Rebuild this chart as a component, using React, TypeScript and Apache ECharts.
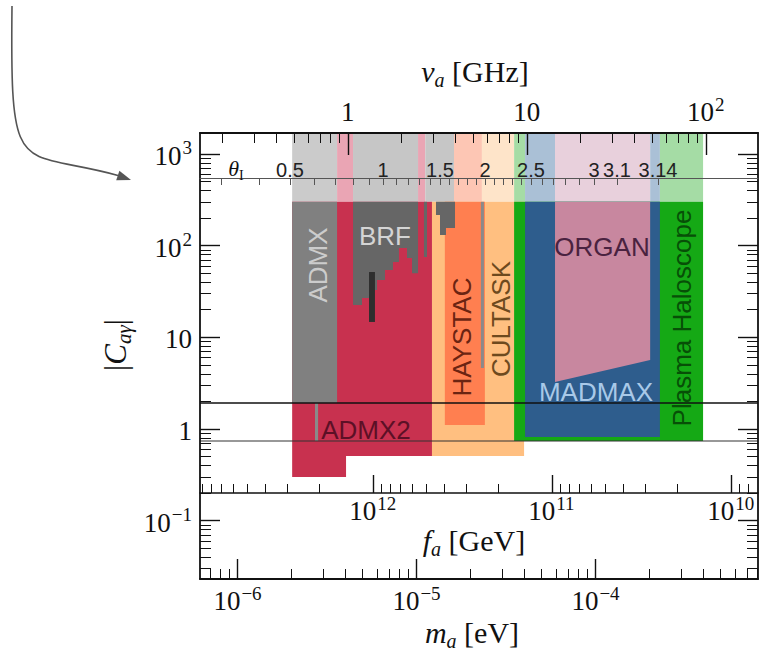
import { useEffect, useRef } from 'react';
import * as echarts from 'echarts';

const SERIF = '"Liberation Serif", "DejaVu Serif", serif';
const SANS = '"Liberation Sans", Arial, sans-serif';
const INK = '#111111';

// ---- axis windows (log10 units) ----
const LOG_M_MIN = -6.2095;
const LOG_M_MAX = -3.0922;
const LOG_C_MIN = -1.6358;
const LOG_C_MAX = 3.2279;

// ---- unit conversions for the secondary axes ----
const EV_PER_GHZ = 4.1357e-6;
const EV_AT_FA_1E12_GEV = 5.7e-6;

// ---- major ticks ----
const massMajorEV = [1e-6, 1e-5, 1e-4];
const freqMajorGHz = [1, 10, 100];
const faMajorGeV = [1e12, 1e11, 1e10];
const couplingMajor = [0.1, 1, 10, 100, 1000];

// ---- theta_I axis (as log10 of mass in eV) ----
const thetaLabels = ['0.5', '1', '1.5', '2', '2.5', '3', '3.1', '3.14'];
const thetaLabelLogMass = [-5.7067, -5.1872, -4.8687, -4.6173, -4.3603, -4.0084, -3.8799, -3.6508];
const thetaTickLogMass = [
  -6.0922, -5.8799, -5.7067, -5.5726, -5.4553, -5.3547, -5.2654, -5.1872, -5.1145, -5.0475,
  -4.986, -4.9246, -4.8687, -4.8184, -4.7682, -4.7179, -4.6676, -4.6173, -4.567, -4.5168,
  -4.4665, -4.4162, -4.3603, -4.2989, -4.2374, -4.1704, -4.0922, -4.0084, -3.8799, -3.6508,
];

// ---- benchmark couplings ----
const ksvzC = 1.92;
const dfszC = 0.74;

// ---- projected band (above |C| = 300) ----
const bandBottomC = 300;
const bandTopC = 2000;
const bandEdgesEV = [2.02e-6, 3.6e-6, 4.42e-6, 1.02e-5, 1.12e-5, 1.62e-5, 2.32e-5, 3.51e-5, 4.04e-5, 5.94e-5, 2.02e-4, 2.29e-4, 3.99e-4];
const bandOwners = ['ADMX', 'ADMX2', 'BRF', 'ADMX2', 'BRF', 'HAYSTAC', 'CULTASK', 'Plasma', 'MADMAX', 'ORGAN', 'MADMAX', 'Plasma'];

// ---- experiment regions: [mass eV, |C|] ----
const cultaskRegion: [number, number][] = [[1.22e-5, 300], [3.99e-5, 300], [3.99e-5, 0.508], [1.22e-5, 0.508]];
const admx2Region: [number, number][] = [[2.02e-6, 300], [1.22e-5, 300], [1.22e-5, 0.508], [4.04e-6, 0.508], [4.04e-6, 0.3], [2.02e-6, 0.3]];
const admxRegion: [number, number][] = [[2.02e-6, 300], [3.6e-6, 300], [3.6e-6, 1.92], [2.02e-6, 1.92]];
const admxSliver: [number, number][] = [[2.71e-6, 1.92], [2.82e-6, 1.92], [2.82e-6, 0.74], [2.71e-6, 0.74]];
const plasmaRegion: [number, number][] = [[3.51e-5, 300], [3.99e-4, 300], [3.99e-4, 0.74], [3.51e-5, 0.74]];
const madmaxRegion: [number, number][] = [[4.04e-5, 300], [2.29e-4, 300], [2.29e-4, 0.818], [4.04e-5, 0.818]];
const organRegion: [number, number][] = [[5.94e-5, 300], [2.02e-4, 300], [2.02e-4, 5.65], [5.94e-5, 3.25]];
const haystacRegion: [number, number][] = [[1.44e-5, 300], [2.41e-5, 300], [2.41e-5, 1.105], [1.44e-5, 1.105]];
const haystacSliver: [number, number][] = [[2.29e-5, 300], [2.38e-5, 300], [2.38e-5, 4.63], [2.29e-5, 4.63]];
const brfMain: [number, number][] = [
  [4.42e-6, 300], [1.02e-5, 300], [1.02e-5, 50], [9.44e-6, 50], [9.44e-6, 73.2], [8.85e-6, 73.2],
  [8.85e-6, 94.2], [7.98e-6, 94.2], [7.98e-6, 66.2], [7.39e-6, 66.2], [7.39e-6, 54.2], [6.67e-6, 54.2],
  [6.67e-6, 42.2], [6.02e-6, 42.2], [6.02e-6, 32.8], [5.5e-6, 32.8], [5.5e-6, 26.8], [4.96e-6, 26.8],
  [4.96e-6, 22.5], [4.42e-6, 22.5],
];
const brfBar: [number, number][] = [[5.43e-6, 51.5], [5.86e-6, 51.5], [5.86e-6, 14.7], [5.43e-6, 14.7]];
const brfSliver: [number, number][] = [[1.1e-5, 300], [1.145e-5, 300], [1.145e-5, 75.1], [1.1e-5, 75.1]];
const brfHigh: [number, number][] = [
  [1.285e-5, 300], [1.641e-5, 300], [1.641e-5, 155.6], [1.461e-5, 155.6], [1.461e-5, 130.5],
  [1.353e-5, 130.5], [1.353e-5, 215.7], [1.285e-5, 215.7],
];

const darkColors: Record<string, string> = {
  ADMX: '#808080', ADMX2: '#c8314f', BRF: '#666666', BRFbar: '#2e2e2e', HAYSTAC: '#ff7f50',
  CULTASK: '#ffbf80', Plasma: '#15a915', MADMAX: '#2e5d8d', ORGAN: '#c8879f', sliver: '#8a8a8a',
};
const lightColors: Record<string, string> = {
  ADMX: '#cbcbcb', ADMX2: '#eaa5b4', BRF: '#c6c6c6', HAYSTAC: '#fdc6b4', CULTASK: '#fee4c9',
  Plasma: '#a5dca5', MADMAX: '#aac0d6', ORGAN: '#e8d0dc',
};

const L = Math.log10;

function minorsBetween(lo: number, hi: number): number[] {
  const out: number[] = [];
  for (let e = Math.floor(L(lo)) - 1; e <= Math.ceil(L(hi)); e++) {
    for (let k = 2; k <= 9; k++) {
      const v = k * Math.pow(10, e);
      if (v > lo * 1.0001 && v < hi * 0.9999) out.push(v);
    }
  }
  return out;
}

const BASE_FS = 27;
const SUP_FS = 19;
const SUP_RISE = 8;

type Shape = { pts: [number, number][]; color: string };
type TickLabel = { side: 'bottom' | 'top' | 'left' | 'fa'; pos: number; exp: number };

function buildShapes(): Shape[] {
  const shapes: Shape[] = [];
  for (let i = 0; i < bandOwners.length; i++) {
    shapes.push({
      pts: [[bandEdgesEV[i], bandBottomC], [bandEdgesEV[i + 1], bandBottomC], [bandEdgesEV[i + 1], bandTopC], [bandEdgesEV[i], bandTopC]],
      color: lightColors[bandOwners[i]],
    });
  }
  shapes.push({ pts: cultaskRegion, color: darkColors.CULTASK });
  shapes.push({ pts: admx2Region, color: darkColors.ADMX2 });
  shapes.push({ pts: admxRegion, color: darkColors.ADMX });
  shapes.push({ pts: admxSliver, color: darkColors.sliver });
  shapes.push({ pts: plasmaRegion, color: darkColors.Plasma });
  shapes.push({ pts: madmaxRegion, color: darkColors.MADMAX });
  shapes.push({ pts: organRegion, color: darkColors.ORGAN });
  shapes.push({ pts: haystacRegion, color: darkColors.HAYSTAC });
  shapes.push({ pts: haystacSliver, color: darkColors.sliver });
  shapes.push({ pts: brfMain, color: darkColors.BRF });
  shapes.push({ pts: brfBar, color: darkColors.BRFbar });
  shapes.push({ pts: brfSliver, color: darkColors.BRF });
  shapes.push({ pts: brfHigh, color: darkColors.BRF });
  return shapes;
}

const GRID = { left: 200, top: 133, width: 558, height: 446 };
const FA_GRID_HEIGHT = 360;
const THETA_GRID_HEIGHT = 45;

// width estimate for Liberation Serif digits / minus sign
const serifWidth = (s: string, fs: number) => s.split('').reduce((w, ch) => w + (ch === '\u2212' ? 0.564 : 0.5) * fs, 0);

function buildOption() {
  const shapes = buildShapes();
  const mLo = Math.pow(10, LOG_M_MIN);
  const mHi = Math.pow(10, LOG_M_MAX);
  const massMinor = minorsBetween(mLo, mHi).map(L);
  const freqMinor = minorsBetween(mLo / EV_PER_GHZ, mHi / EV_PER_GHZ).map((f) => L(f * EV_PER_GHZ));
  const faScale = EV_AT_FA_1E12_GEV * 1e12;
  const faMinor = minorsBetween(faScale / mHi, faScale / mLo).map((f) => L(faScale / f));
  const cMinor = minorsBetween(Math.pow(10, LOG_C_MIN), Math.pow(10, LOG_C_MAX)).map(L);

  const tickLabels: TickLabel[] = [
    ...massMajorEV.map((m) => ({ side: 'bottom' as const, pos: L(m), exp: Math.round(L(m)) })),
    ...freqMajorGHz.map((f) => ({ side: 'top' as const, pos: L(f * EV_PER_GHZ), exp: Math.round(L(f)) })),
    ...faMajorGeV.map((f) => ({ side: 'fa' as const, pos: L(faScale / f), exp: Math.round(L(f)) })),
    ...couplingMajor.map((c) => ({ side: 'left' as const, pos: L(c), exp: Math.round(L(c)) })),
  ];

  const frame = { show: true, onZero: false, lineStyle: { color: INK, width: 1.8 } };
  const noLine = { show: false, onZero: false };
  const majTick = (len: number, vals: number[]) => ({ show: true, inside: true, length: len, customValues: vals, lineStyle: { color: INK, width: 1.4 } });
  const minTick = (len: number, vals: number[]) => ({ show: true, inside: true, length: len, customValues: vals, lineStyle: { color: INK, width: 1 } });
  const off = { show: false };
  const xBase = { type: 'value', min: LOG_M_MIN, max: LOG_M_MAX, splitLine: off, z: 10 };
  const yBase = { type: 'value', min: LOG_C_MIN, max: LOG_C_MAX, splitLine: off, z: 10 };

  const titleRich = (size: number, sub: number) => ({
    n: { fontFamily: SERIF, fontSize: size, lineHeight: size + 3, verticalAlign: 'top', fill: INK, color: INK },
    i: { fontFamily: SERIF, fontStyle: 'italic', fontSize: size, lineHeight: size + 3, verticalAlign: 'top', fill: INK, color: INK },
    sub: { fontFamily: SERIF, fontStyle: 'italic', fontSize: sub, lineHeight: sub, padding: [Math.round(size * 0.5), 0, 0, 0], verticalAlign: 'bottom', fill: INK, color: INK },
    subr: { fontFamily: SERIF, fontSize: sub, lineHeight: sub, padding: [Math.round(size * 0.5), 0, 0, 0], verticalAlign: 'bottom', fill: INK, color: INK },
  });

  const label = (text: string, x: number, y: number, fill: string, vertical = false) => ({
    type: 'text', z: 20, x, y, rotation: vertical ? Math.PI / 2 : 0,
    style: { text, fill, font: `26px ${SANS}`, align: 'center', verticalAlign: 'middle', textAlign: 'center', textVerticalAlign: 'middle' },
  });
  const title = (text: string, x: number, y: number, size: number, sub: number, vertical = false) => ({
    type: 'text', z: 20, x, y, rotation: vertical ? Math.PI / 2 : 0,
    style: { text, fontSize: size, fontFamily: SERIF, rich: titleRich(size, sub), align: 'center', verticalAlign: 'middle', textAlign: 'center', textVerticalAlign: 'middle' },
  });

  return {
    animation: false,
    backgroundColor: '#ffffff',
    grid: [
      { ...GRID, outerBoundsMode: 'none' },
      { ...GRID, outerBoundsMode: 'none' },
      { left: 200, top: 133, width: 558, height: FA_GRID_HEIGHT, outerBoundsMode: 'none' },
      { left: 200, top: 133, width: 558, height: FA_GRID_HEIGHT, outerBoundsMode: 'none' },
      { left: 200, top: 133, width: 558, height: THETA_GRID_HEIGHT, outerBoundsMode: 'none' },
    ],
    xAxis: [
      { ...xBase, gridIndex: 0, position: 'bottom', axisLine: frame, axisTick: majTick(20, massMajorEV.map(L)), axisLabel: off },
      { ...xBase, gridIndex: 0, position: 'top', axisLine: frame, axisTick: majTick(22, freqMajorGHz.map((f) => L(f * EV_PER_GHZ))), axisLabel: off },
      { ...xBase, gridIndex: 1, position: 'bottom', axisLine: noLine, axisTick: minTick(10, massMinor), axisLabel: off },
      { ...xBase, gridIndex: 1, position: 'top', axisLine: noLine, axisTick: minTick(10, freqMinor), axisLabel: off },
      {
        ...xBase, gridIndex: 2, position: 'bottom', axisLine: { show: true, onZero: false, lineStyle: { color: INK, width: 1.5 } },
        axisTick: majTick(18, faMajorGeV.map((f) => L(faScale / f))), axisLabel: off,
      },
      { ...xBase, gridIndex: 3, position: 'bottom', axisLine: noLine, axisTick: minTick(9, faMinor), axisLabel: off },
      {
        ...xBase, gridIndex: 4, position: 'bottom', axisLine: { show: true, onZero: false, lineStyle: { color: '#555', width: 1 } },
        axisTick: { show: true, inside: false, length: 7, customValues: thetaTickLogMass, lineStyle: { color: '#555', width: 1 } },
        axisLabel: {
          show: true, inside: true, margin: -2, customValues: thetaLabelLogMass,
          fontFamily: SANS, fontSize: 20, color: '#222',
          formatter: (v: number) => {
            const i = thetaLabelLogMass.findIndex((t) => Math.abs(t - v) < 1e-6);
            return i >= 0 ? thetaLabels[i] : '';
          },
        },
      },
    ],
    yAxis: [
      { ...yBase, gridIndex: 0, position: 'left', axisLine: frame, axisTick: majTick(20, couplingMajor.map(L)), axisLabel: off },
      { ...yBase, gridIndex: 0, position: 'right', axisLine: frame, axisTick: majTick(20, couplingMajor.map(L)), axisLabel: off },
      { ...yBase, gridIndex: 1, position: 'left', axisLine: noLine, axisTick: minTick(11, cMinor), axisLabel: off },
      { ...yBase, gridIndex: 1, position: 'right', axisLine: noLine, axisTick: minTick(11, cMinor), axisLabel: off },
      { type: 'value', gridIndex: 2, min: 0, max: 1, show: false },
      { type: 'value', gridIndex: 3, min: 0, max: 1, show: false },
      { type: 'value', gridIndex: 4, min: 0, max: 1, show: false },
    ],
    series: [
      {
        type: 'custom', name: 'regions', xAxisIndex: 0, yAxisIndex: 0, z: 2, silent: true,
        data: shapes.map(() => [LOG_M_MIN, LOG_C_MIN]),
        renderItem: (params: any, api: any) => {
          const sh = shapes[params.dataIndex];
          const cs = params.coordSys;
          const points = sh.pts.map(([m, c]) => {
            const p = api.coord([L(m), L(c)]);
            return [Math.min(Math.max(p[0], cs.x), cs.x + cs.width), Math.min(Math.max(p[1], cs.y), cs.y + cs.height)];
          });
          return { type: 'polygon', shape: { points }, style: { fill: sh.color, stroke: null } };
        },
      },
      {
        type: 'custom', name: 'benchmarks', xAxisIndex: 0, yAxisIndex: 0, z: 3, silent: true,
        data: [[LOG_M_MIN, L(ksvzC), 1.6], [LOG_M_MIN, L(dfszC), 1.1]],
        renderItem: (params: any, api: any) => {
          const cs = params.coordSys;
          const y = api.coord([api.value(0), api.value(1)])[1];
          return { type: 'line', shape: { x1: cs.x, y1: y, x2: cs.x + cs.width, y2: y }, style: { stroke: params.dataIndex === 0 ? '#111' : '#333', lineWidth: api.value(2) } };
        },
      },
      {
        type: 'custom', name: 'tickLabels', xAxisIndex: 0, yAxisIndex: 0, z: 12, silent: true, clip: false,
        data: tickLabels.map(() => [LOG_M_MIN, LOG_C_MIN]),
        renderItem: (params: any, api: any) => {
          const t = tickLabels[params.dataIndex];
          const cs = params.coordSys;
          const base = t.exp === 0 ? '1' : '10';
          const sup = t.exp === 0 || t.exp === 1 ? '' : t.exp < 0 ? '\u2212' + -t.exp : String(t.exp);
          const wb = serifWidth(base, BASE_FS);
          const ws = sup ? serifWidth(sup, SUP_FS) + 1 : 0;
          const total = wb + ws;
          // (x0, yc) = left end and vertical centre of the base text
          let x0 = 0;
          let yc = 0;
          if (t.side === 'left') {
            const p = api.coord([LOG_M_MIN, t.pos]);
            x0 = cs.x - 8 - total; yc = p[1] + 2;
          } else {
            const p = api.coord([t.pos, LOG_C_MIN]);
            x0 = p[0] - total / 2;
            if (t.side === 'bottom') yc = cs.y + cs.height + 22;
            else if (t.side === 'top') yc = cs.y - 21;
            else yc = cs.y + FA_GRID_HEIGHT + 18;
          }
          const children: any[] = [
            { type: 'text', x: x0, y: yc, style: { text: base, fontFamily: SERIF, fontSize: BASE_FS, fill: INK, align: 'left', verticalAlign: 'middle' } },
          ];
          if (sup) {
            children.push({ type: 'text', x: x0 + wb + 1, y: yc - SUP_RISE, style: { text: sup, fontFamily: SERIF, fontSize: SUP_FS, fill: INK, align: 'left', verticalAlign: 'middle' } });
          }
          return { type: 'group', children };
        },
      },
    ],
    graphic: [
      { type: 'bezierCurve', z: 20, shape: { x1: 12, y1: 6, cpx1: 10, cpy1: 185, cpx2: 18, cpy2: 148, x2: 118, y2: 175.4 }, style: { stroke: '#555', lineWidth: 1.6, fill: null } },
      { type: 'polygon', z: 20, shape: { points: [[131, 180], [116.2, 180.2], [119.4, 170.8]] }, style: { fill: '#555' } },
      title('{i|ν}{sub|a}{n| [GHz]}', 475, 73, 30, 20),
      title('{n||}{i|C}{sub|aγ}{n||}', 117, 345, 31, 21, true),
      title('{i|f}{sub|a}{n| [GeV]}', 474, 542, 30, 20),
      title('{i|m}{sub|a}{n| [eV]}', 472, 634, 30, 20),
      title('{i|θ}{subr|I}', 236, 170, 22, 14),
      label('ADMX', 318, 265, '#cccccc', true),
      label('BRF', 385, 236, '#d4d4d4'),
      label('ADMX2', 366, 430, '#5c1026'),
      label('HAYSTAC', 462, 337, '#6b2412', true),
      label('CULTASK', 501, 319, '#6e4a1e', true),
      label('ORGAN', 602, 247, '#4a2240'),
      label('MADMAX', 596, 392, '#a9c9e8'),
      label('Plasma Haloscope', 682, 318, '#074f07', true),
    ],
  };
}

export default function App() {
  const ref = useRef<HTMLDivElement>(null);
  useEffect(() => {
    if (!ref.current) return;
    const chart = echarts.init(ref.current, null, { renderer: 'svg' });
    chart.setOption(buildOption() as any);
    return () => chart.dispose();
  }, []);
  return <div ref={ref} style={{ position: 'absolute', left: 0, top: 0, width: 769, height: 660, background: '#fff' }} />;
}
